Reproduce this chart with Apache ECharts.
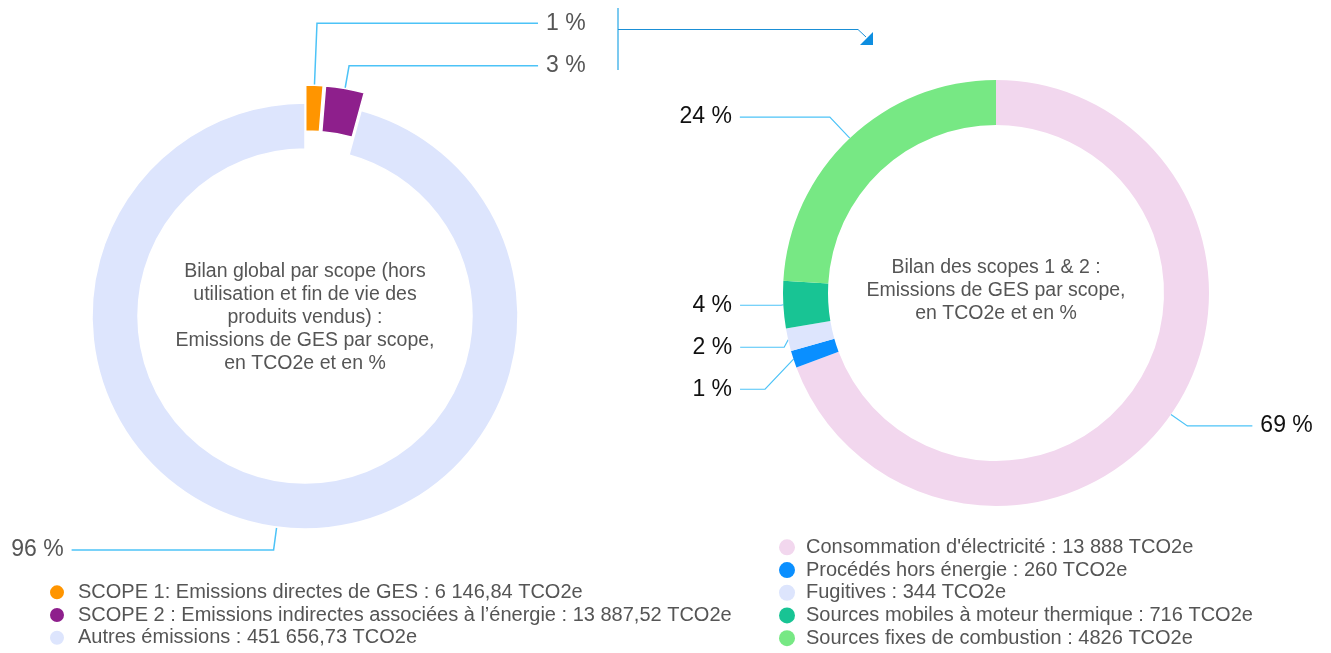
<!DOCTYPE html>
<html><head><meta charset="utf-8">
<script src="https://cdn.jsdelivr.net/npm/echarts@6/dist/echarts.min.js"></script>
<style>html,body{margin:0;padding:0;background:#fff}#c{width:1331px;height:653px}</style>
</head><body><div id="c"></div>
<script>
// ---- data ----
const scopeNames = [
  'SCOPE 1: Emissions directes de GES : 6 146,84 TCO2e',
  'SCOPE 2 : Emissions indirectes associées à l’énergie : 13 887,52 TCO2e',
  'Autres émissions : 451 656,73 TCO2e'
];
const scopeValues = [6146.84, 13887.52, 451656.73];
const scopeSelected = [true, true, false];

const s12Names = [
  "Consommation d'électricité : 13 888 TCO2e",
  'Procédés hors énergie : 260 TCO2e',
  'Fugitives : 344 TCO2e',
  'Sources mobiles à moteur thermique : 716 TCO2e',
  'Sources fixes de combustion : 4826 TCO2e'
];
const s12Values = [13888, 260, 344, 716, 4826];

const leftCenterText = 'Bilan global par scope (hors\nutilisation et fin de vie des\nproduits vendus) :\nEmissions de GES par scope,\nen TCO2e et en %';
const rightCenterText = 'Bilan des scopes 1 & 2 :\nEmissions de GES par scope,\nen TCO2e et en %';

// ---- styles ----
const scopeColors = ['#FF9500', '#8E1F8C', '#DDE5FD'];
const s12Colors = ['#F2D7EE', '#0A8FFF', '#DDE5FD', '#18C494', '#77E884'];
const leftLines = [[62, 221], [23, 189], [23, 202]];
const rightLines = [[20, 65], [30, 25], [8, 44], [10, 41], [29, 90]];
const leftCenter = [305, 316];
const rightCenter = [996, 293];
const FONT = '"Liberation Sans", Arial, sans-serif';
const lineColor = '#4DC3F7';
const TXT = 19.5;
const LEG = 20;

const leftData = scopeNames.map((n, i) => ({
  name: n, value: scopeValues[i], selected: scopeSelected[i],
  itemStyle: { color: scopeColors[i] },
  labelLine: { length: leftLines[i][0], length2: leftLines[i][1] }
}));
const rightData = s12Names.map((n, i) => ({
  name: n, value: s12Values[i],
  itemStyle: { color: s12Colors[i] },
  labelLine: { length: rightLines[i][0], length2: rightLines[i][1] }
}));

const legendBase = {
  orient: 'vertical', icon: 'circle', itemWidth: 16, itemHeight: 16, itemGap: 0,
  padding: 0, height: 200, selectedMode: false
};

const chart = echarts.init(document.getElementById('c'), null, { renderer: 'canvas' });
chart.setOption({
  animation: false,
  textStyle: { fontFamily: FONT },
  legend: [
    Object.assign({}, legendBase, {
      data: scopeNames, left: 48, top: 581,
      textStyle: { fontSize: LEG, color: '#555', fontFamily: FONT, lineHeight: 22.7, padding: [0, 0, 0, 8] }
    }),
    Object.assign({}, legendBase, {
      data: s12Names, left: 779, top: 536,
      textStyle: { fontSize: LEG, color: '#555', fontFamily: FONT, lineHeight: 22.7, padding: [0, 0, 0, 6] }
    })
  ],
  graphic: [
    { type: 'text', x: leftCenter[0], y: leftCenter[1] + 2,
      style: { text: leftCenterText, align: 'center', verticalAlign: 'middle', fill: '#555',
        font: TXT + 'px ' + FONT, lineHeight: 23 } },
    { type: 'text', x: rightCenter[0], y: rightCenter[1] - 2,
      style: { text: rightCenterText, align: 'center', verticalAlign: 'middle', fill: '#555',
        font: TXT + 'px ' + FONT, lineHeight: 23 } },
    { type: 'line', shape: { x1: 618, y1: 8, x2: 618, y2: 70 }, style: { stroke: '#7CCAF0', lineWidth: 2 } },
    { type: 'polyline', shape: { points: [[618, 29.5], [858, 29.5], [866, 37]] }, style: { stroke: '#1A8FD6', lineWidth: 1, fill: null } },
    { type: 'polygon', shape: { points: [[860, 45], [873, 32], [873, 45]] }, style: { fill: '#0E8EE0' } }
  ],
  series: [
    {
      type: 'pie', center: leftCenter, radius: [167, 213], startAngle: 90, clockwise: true,
      selectedMode: 'multiple', selectedOffset: 18, percentPrecision: 0,
      avoidLabelOverlap: true,
      itemStyle: { borderColor: '#fff', borderWidth: 1.5 },
      emphasis: { disabled: true }, select: { itemStyle: { borderColor: '#fff', borderWidth: 1.5 } },
      label: { show: true, formatter: '{d} %', fontSize: 23, color: '#555', fontFamily: FONT,
        lineHeight: 23, distanceToLabelLine: 8 },
      labelLine: { show: true, lineStyle: { color: lineColor, width: 1.5 } },
      data: leftData
    },
    {
      type: 'pie', center: rightCenter, radius: [168, 213], startAngle: 90, clockwise: true,
      selectedMode: false, percentPrecision: 0, avoidLabelOverlap: true,
      emphasis: { disabled: true },
      label: { show: true, formatter: '{d} %', fontSize: 23, color: '#111', fontFamily: FONT,
        lineHeight: 40, distanceToLabelLine: 8 },
      labelLine: { show: true, lineStyle: { color: lineColor, width: 1.2 } },
      data: rightData
    }
  ]
});
</script></body></html>
